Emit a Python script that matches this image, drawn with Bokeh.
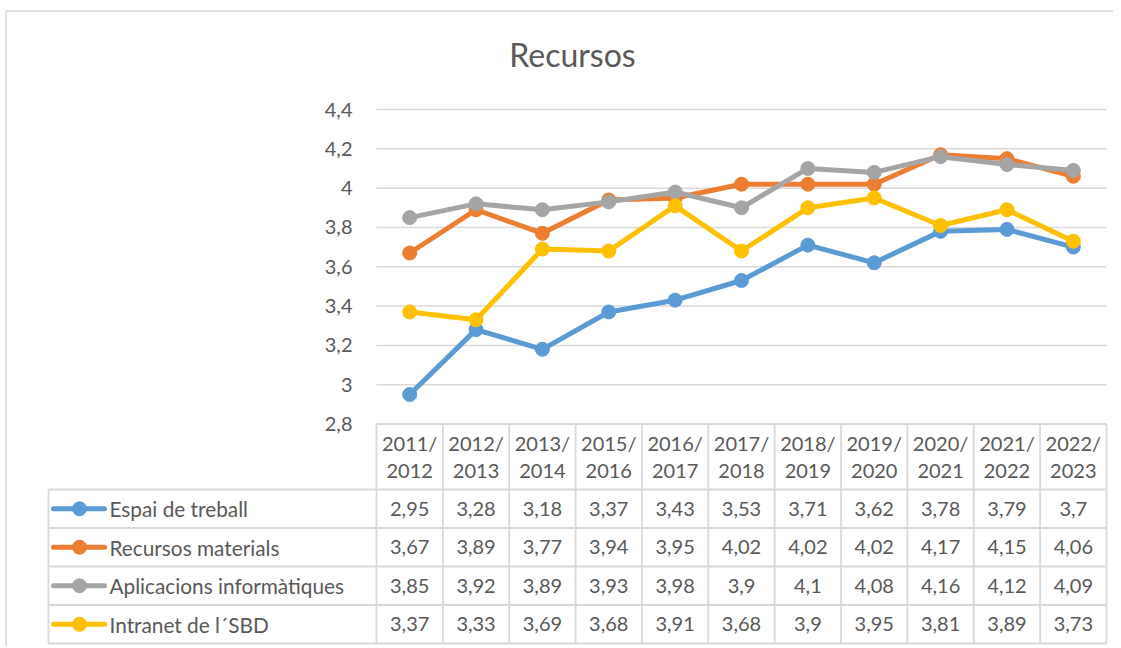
from bokeh.plotting import figure
from bokeh.models import Range1d
from bokeh.core.properties import value
from bokeh.embed import file_html
from bokeh.resources import INLINE

# ---------------- data ----------------
chart_title = "Recursos"
categories = ["2011/2012", "2012/2013", "2013/2014", "2015/2016", "2016/2017",
              "2017/2018", "2018/2019", "2019/2020", "2020/2021", "2021/2022",
              "2022/2023"]
series_names = ["Espai de treball", "Recursos materials",
                "Aplicacions informàtiques", "Intranet de l´SBD"]
espai_de_treball = [2.95, 3.28, 3.18, 3.37, 3.43, 3.53, 3.71, 3.62, 3.78, 3.79, 3.70]
recursos_materials = [3.67, 3.89, 3.77, 3.94, 3.95, 4.02, 4.02, 4.02, 4.17, 4.15, 4.06]
aplicacions_informatiques = [3.85, 3.92, 3.89, 3.93, 3.98, 3.90, 4.10, 4.08, 4.16, 4.12, 4.09]
intranet_sbd = [3.37, 3.33, 3.69, 3.68, 3.91, 3.68, 3.90, 3.95, 3.81, 3.89, 3.73]
series_colors = ["#5B9BD5", "#ED7D31", "#A5A5A5", "#FFC000"]
y_ticks = [2.8, 3.0, 3.2, 3.4, 3.6, 3.8, 4.0, 4.2, 4.4]
y_tick_labels = ["2,8", "3", "3,2", "3,4", "3,6", "3,8", "4", "4,2", "4,4"]

series_values = [espai_de_treball, recursos_materials,
                 aplicacions_informatiques, intranet_sbd]


def fmt(v):
    return f"{v:g}".replace(".", ",")


# ---------------- layout (pixels of the picture) ----------------
FX0, FY0, FW, FH = 0, 0, 1113, 646
PL, PR, PT, PB = 376.0, 1106.0, 109.0, 423.5
LEG_L = 48.0
HEAD_B = 489.0
ROW_H = 38.5
YMIN, YMAX = 2.8, 4.4
FONT = value("Lato")
TXT = "#595959"
GRID = "#D9D9D9"
FS = "20px"

n = len(categories)
cw = (PR - PL) / n
ppu = (PB - PT) / (YMAX - YMIN)

x_range = Range1d((FX0 - PL) / cw - 0.5, (FX0 + FW - PL) / cw - 0.5)
y_range = Range1d(YMIN - (FY0 + FH - PB) / ppu, YMAX + (PT - FY0) / ppu)

p = figure(width=FW, height=FH, x_range=x_range, y_range=y_range,
           x_axis_type=None, y_axis_type=None, min_border=0,
           toolbar_location=None, output_backend="svg")
p.outline_line_color = None
p.background_fill_color = "white"
p.border_fill_color = "white"
p.grid.visible = False
p.extra_x_ranges = {"px": Range1d(FX0, FX0 + FW)}
p.extra_y_ranges = {"px": Range1d(FY0 + FH, FY0)}

# outer chart border
p.line(x=[5.5, 5.5, 1140], y=[700, 10.5, 10.5], x_range_name="px", y_range_name="px",
       line_color=GRID, line_width=1.5)

# title
p.text(x=[572], y=[54], text=[chart_title], x_range_name="px", y_range_name="px",
       text_align="center", text_baseline="middle", text_font=FONT,
       text_font_size="32px", text_color=TXT)

# horizontal gridlines (data y)
p.segment(x0=[PL] * len(y_ticks), x1=[PR] * len(y_ticks), y0=y_ticks, y1=y_ticks,
          x_range_name="px", line_color=GRID, line_width=1.5)

# y tick labels
p.text(x=[352] * len(y_ticks), y=y_ticks, text=y_tick_labels, x_range_name="px",
       text_align="right", text_baseline="middle", text_font=FONT,
       text_font_size=FS, text_color=TXT)

# series
xs = list(range(n))
for vals, col in zip(series_values, series_colors):
    p.line(x=xs, y=vals, line_color=col, line_width=5,
           line_join="round", line_cap="round")
    p.scatter(x=xs, y=vals, size=14, fill_color=col, line_color=col)

# data table grid
nrows = len(series_names)
row_edges = [HEAD_B + k * ROW_H for k in range(nrows + 1)]
hx0 = [PL] + [LEG_L] * len(row_edges)
hx1 = [PR] * (len(row_edges) + 1)
hy = [PB] + row_edges
p.segment(x0=hx0, x1=hx1, y0=hy, y1=hy, x_range_name="px", y_range_name="px",
          line_color=GRID, line_width=1.8)
col_edges = [PL + k * cw for k in range(n + 1)]
vx = [LEG_L] + col_edges
vy0 = [HEAD_B] + [PB] * len(col_edges)
vy1 = [row_edges[-1]] * len(vx)
p.segment(x0=vx, x1=vx, y0=vy0, y1=vy1, x_range_name="px", y_range_name="px",
          line_color=GRID, line_width=1.8)

# header texts (category labels in two lines)
top_lbl = [c.split("/")[0] + "/" for c in categories]
bot_lbl = [c.split("/")[1] for c in categories]
p.text(x=xs, y=[442] * n, text=top_lbl, y_range_name="px",
       text_align="center", text_baseline="middle", text_font=FONT,
       text_font_size=FS, text_color=TXT)
p.text(x=xs, y=[470] * n, text=bot_lbl, y_range_name="px",
       text_align="center", text_baseline="middle", text_font=FONT,
       text_font_size=FS, text_color=TXT)

# rows: legend keys, names and values
for r, (name, vals, col) in enumerate(zip(series_names, series_values, series_colors)):
    ym = HEAD_B + (r + 0.5) * ROW_H
    p.segment(x0=[53], x1=[104], y0=[ym], y1=[ym], x_range_name="px",
              y_range_name="px", line_color=col, line_width=5, line_cap="round")
    p.scatter(x=[79], y=[ym], size=14, fill_color=col, line_color=col,
              x_range_name="px", y_range_name="px")
    p.text(x=[109], y=[ym], text=[name], x_range_name="px", y_range_name="px",
           text_align="left", text_baseline="middle", text_font=FONT,
           text_font_size="20.8px", text_color=TXT)
    p.text(x=xs, y=[ym] * n, text=[fmt(v) for v in vals], y_range_name="px",
           text_align="center", text_baseline="middle", text_font=FONT,
           text_font_size=FS, text_color=TXT)

open("out.html", "w").write(file_html(p, INLINE))
